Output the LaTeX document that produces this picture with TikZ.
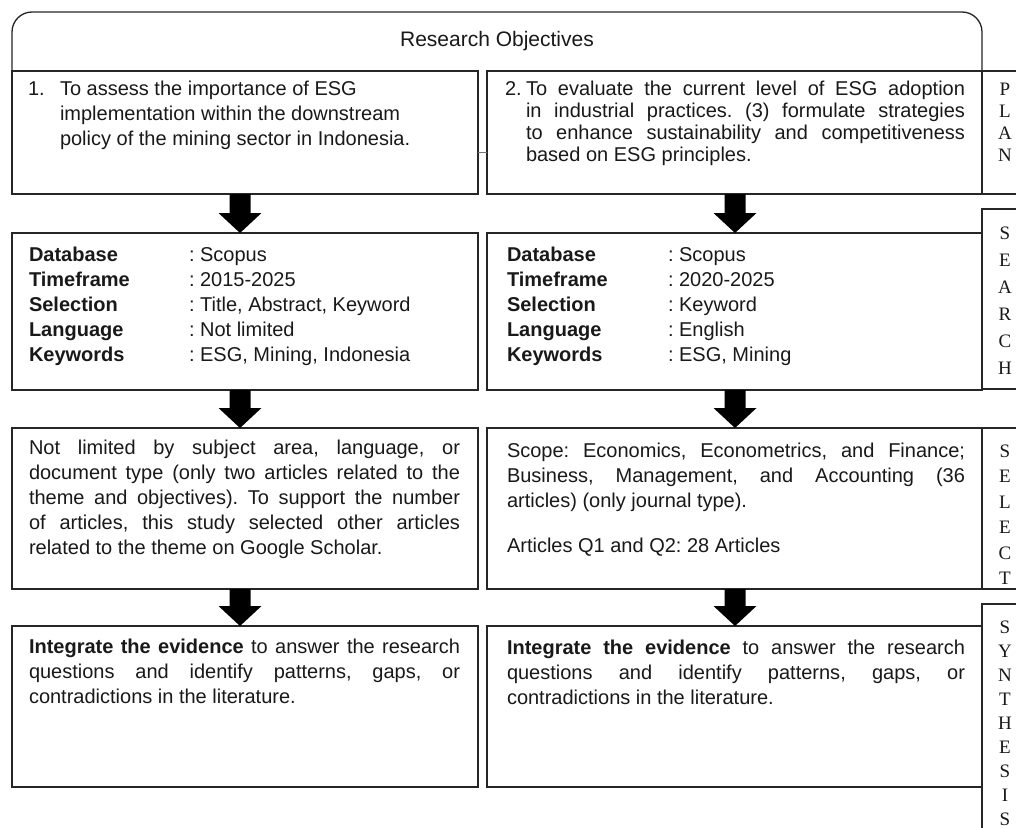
\documentclass[tikz,border=0pt]{standalone}
\usepackage{fontspec}
\setmainfont{Liberation Sans}
\newfontfamily\sidefont{Liberation Serif}
\usetikzlibrary{calc}
\frenchspacing
\newcommand\blockarrow[3]{%
  \fill[arrowfill] let \p1=(#1), \p2=(#2) in
   ({\x1+#3-10.5pt},\y1) -- ({\x1+#3+10.5pt},\y1) -- ({\x1+#3+10.5pt},{\y2+20pt})
   -- ({\x1+#3+21.5pt},{\y2+20pt}) -- ({\x1+#3},\y2) -- ({\x1+#3-21.5pt},{\y2+20pt})
   -- ({\x1+#3-10.5pt},{\y2+20pt}) -- cycle;}
\begin{document}
\frenchspacing
\begin{tikzpicture}[x=1pt,y=-1pt,
  boxst/.style={draw=black!85, line width=1.3pt, inner sep=0pt, outer sep=0pt},
  txt/.style={anchor=north west, inner sep=0pt, outer sep=0pt, align=left, text=black!90, font=\fontsize{20}{25}\selectfont},
  tabtxt/.style={anchor=north west, inner sep=0pt, outer sep=0pt, text=black!90, font=\fontsize{20}{25}\selectfont},
  sidelet/.style={anchor=north, inner sep=0pt, outer sep=0pt, align=center, text=black!90},
  arrowfill/.style={fill=black},
  link/.style={draw=black!55, line width=1pt},
]
\useasboundingbox (0,0) rectangle (1016,827);
\fill[white] (0,0) rectangle (1016,827);
\clip (0,0) rectangle (1016,827);

% title box
\draw[boxst, rounded corners=20pt] (12,71) -- (12,12) -- (982,12) -- (982,71);
\node[inner sep=0pt, text=black!90, font=\fontsize{21}{25}\selectfont] (title) at (497,41) {Research Objectives};

% boxes
\node[boxst, minimum width=466pt, minimum height=123pt] (b1) at (245,132.5) {};
\node[boxst, minimum width=495pt, minimum height=123pt] (b2) at (734.5,132.5) {};
\node[boxst, minimum width=466pt, minimum height=157pt] (b3) at (245,311.5) {};
\node[boxst, minimum width=495pt, minimum height=157pt] (b4) at (734.5,311.5) {};
\node[boxst, minimum width=466pt, minimum height=161pt] (b5) at (245,508.5) {};
\node[boxst, minimum width=495pt, minimum height=161pt] (b6) at (734.5,508.5) {};
\node[boxst, minimum width=466pt, minimum height=161pt] (b7) at (245,706.5) {};
\node[boxst, minimum width=495pt, minimum height=161pt] (b8) at (734.5,706.5) {};

% side boxes
\node[boxst, minimum width=60pt, minimum height=123pt] (splan) at (1012,132.5) {};
\node[boxst, minimum width=60pt, minimum height=180pt] (ssearch) at (1012,299) {};
\node[boxst, minimum width=60pt, minimum height=161pt] (sselect) at (1012,508.5) {};
\node[boxst, minimum width=60pt, minimum height=296pt] (ssynth) at (1012,752) {};

% side letters
\node[sidelet, font=\sidefont\fontsize{19}{22}\selectfont] (lplan) at (1005,80) {\strut P\\L\\A\\N};
\node[sidelet, font=\sidefont\fontsize{19}{27}\selectfont] (lsearch) at (1005,220.5) {\strut S\\E\\A\\R\\C\\H};
\node[sidelet, font=\sidefont\fontsize{19}{25.5}\selectfont] (lselect) at (1005,439.5) {\strut S\\E\\L\\E\\C\\T};
\node[sidelet, font=\sidefont\fontsize{19}{24}\selectfont] (lsynth) at (1005,616.5) {\strut S\\Y\\N\\T\\H\\E\\S\\I\\S};

% small link between objective boxes
\draw[link] ([yshift=-19.5pt]b1.east) -- ([yshift=-19.5pt]b2.west);

% arrows
\blockarrow{b1.south}{b3.north}{-5pt}
\blockarrow{b2.south}{b4.north}{0.5pt}
\blockarrow{b3.south}{b5.north}{-5pt}
\blockarrow{b4.south}{b6.north}{0.5pt}
\blockarrow{b5.south}{b7.north}{-5pt}
\blockarrow{b6.south}{b8.north}{0.5pt}

% row 1 texts
\node[txt] (n1) at (28,77.5) {\strut 1.};
\node[txt] (t1) at (60,77.5) {\strut To assess the importance of ESG\\implementation within the downstream\\policy of the mining sector in Indonesia.};
\node[txt, font=\fontsize{20}{22}\selectfont] (n2) at (505,79.6) {\strut 2.};
\node[txt, font=\fontsize{20}{22}\selectfont] (t2) at (526,79.6) {\strut\makebox[439pt][s]{To evaluate the current level of ESG adoption}\\
\makebox[439pt][s]{in industrial practices. (3) formulate strategies}\\
\makebox[439pt][s]{to enhance sustainability and competitiveness}\\
based on ESG principles.};

% row 2 texts
\node[tabtxt] (t3) at (29,243.5) {\begin{tabular}{@{}p{160pt}@{}l@{}}
\textbf{Database} & : Scopus\\
\textbf{Timeframe} & : 2015-2025\\
\textbf{Selection} & : Title, Abstract, Keyword\\
\textbf{Language} & : Not limited\\
\textbf{Keywords} & : ESG, Mining, Indonesia
\end{tabular}};
\node[tabtxt] (t4) at (507,243.5) {\begin{tabular}{@{}p{161pt}@{}l@{}}
\textbf{Database} & : Scopus\\
\textbf{Timeframe} & : 2020-2025\\
\textbf{Selection} & : Keyword\\
\textbf{Language} & : English\\
\textbf{Keywords} & : ESG, Mining
\end{tabular}};

% row 3 texts
\node[txt] (t5) at (29,436.5) {\strut\makebox[431pt][s]{Not limited by subject area, language, or}\\
\makebox[431pt][s]{document type (only two articles related to the}\\
\makebox[431pt][s]{theme and objectives). To support the number}\\
\makebox[431pt][s]{of articles, this study selected other articles}\\
related to the theme on Google Scholar.};
\node[txt] (t6) at (507,439.5) {\strut\makebox[458pt][s]{Scope: Economics, Econometrics, and Finance;}\\
\makebox[458pt][s]{Business, Management, and Accounting (36}\\
articles) (only journal type).\\[20pt]
Articles Q1 and Q2: 28 Articles};

% row 4 texts
\node[txt] (t7) at (29,635.5) {\strut\makebox[431pt][s]{\textbf{Integrate the evidence} to answer the research}\\
\makebox[431pt][s]{questions and identify patterns, gaps, or}\\
contradictions in the literature.};
\node[txt] (t8) at (507,636.5) {\strut\makebox[458pt][s]{\textbf{Integrate the evidence} to answer the research}\\
\makebox[458pt][s]{questions and identify patterns, gaps, or}\\
contradictions in the literature.};
\end{tikzpicture}
\end{document}
